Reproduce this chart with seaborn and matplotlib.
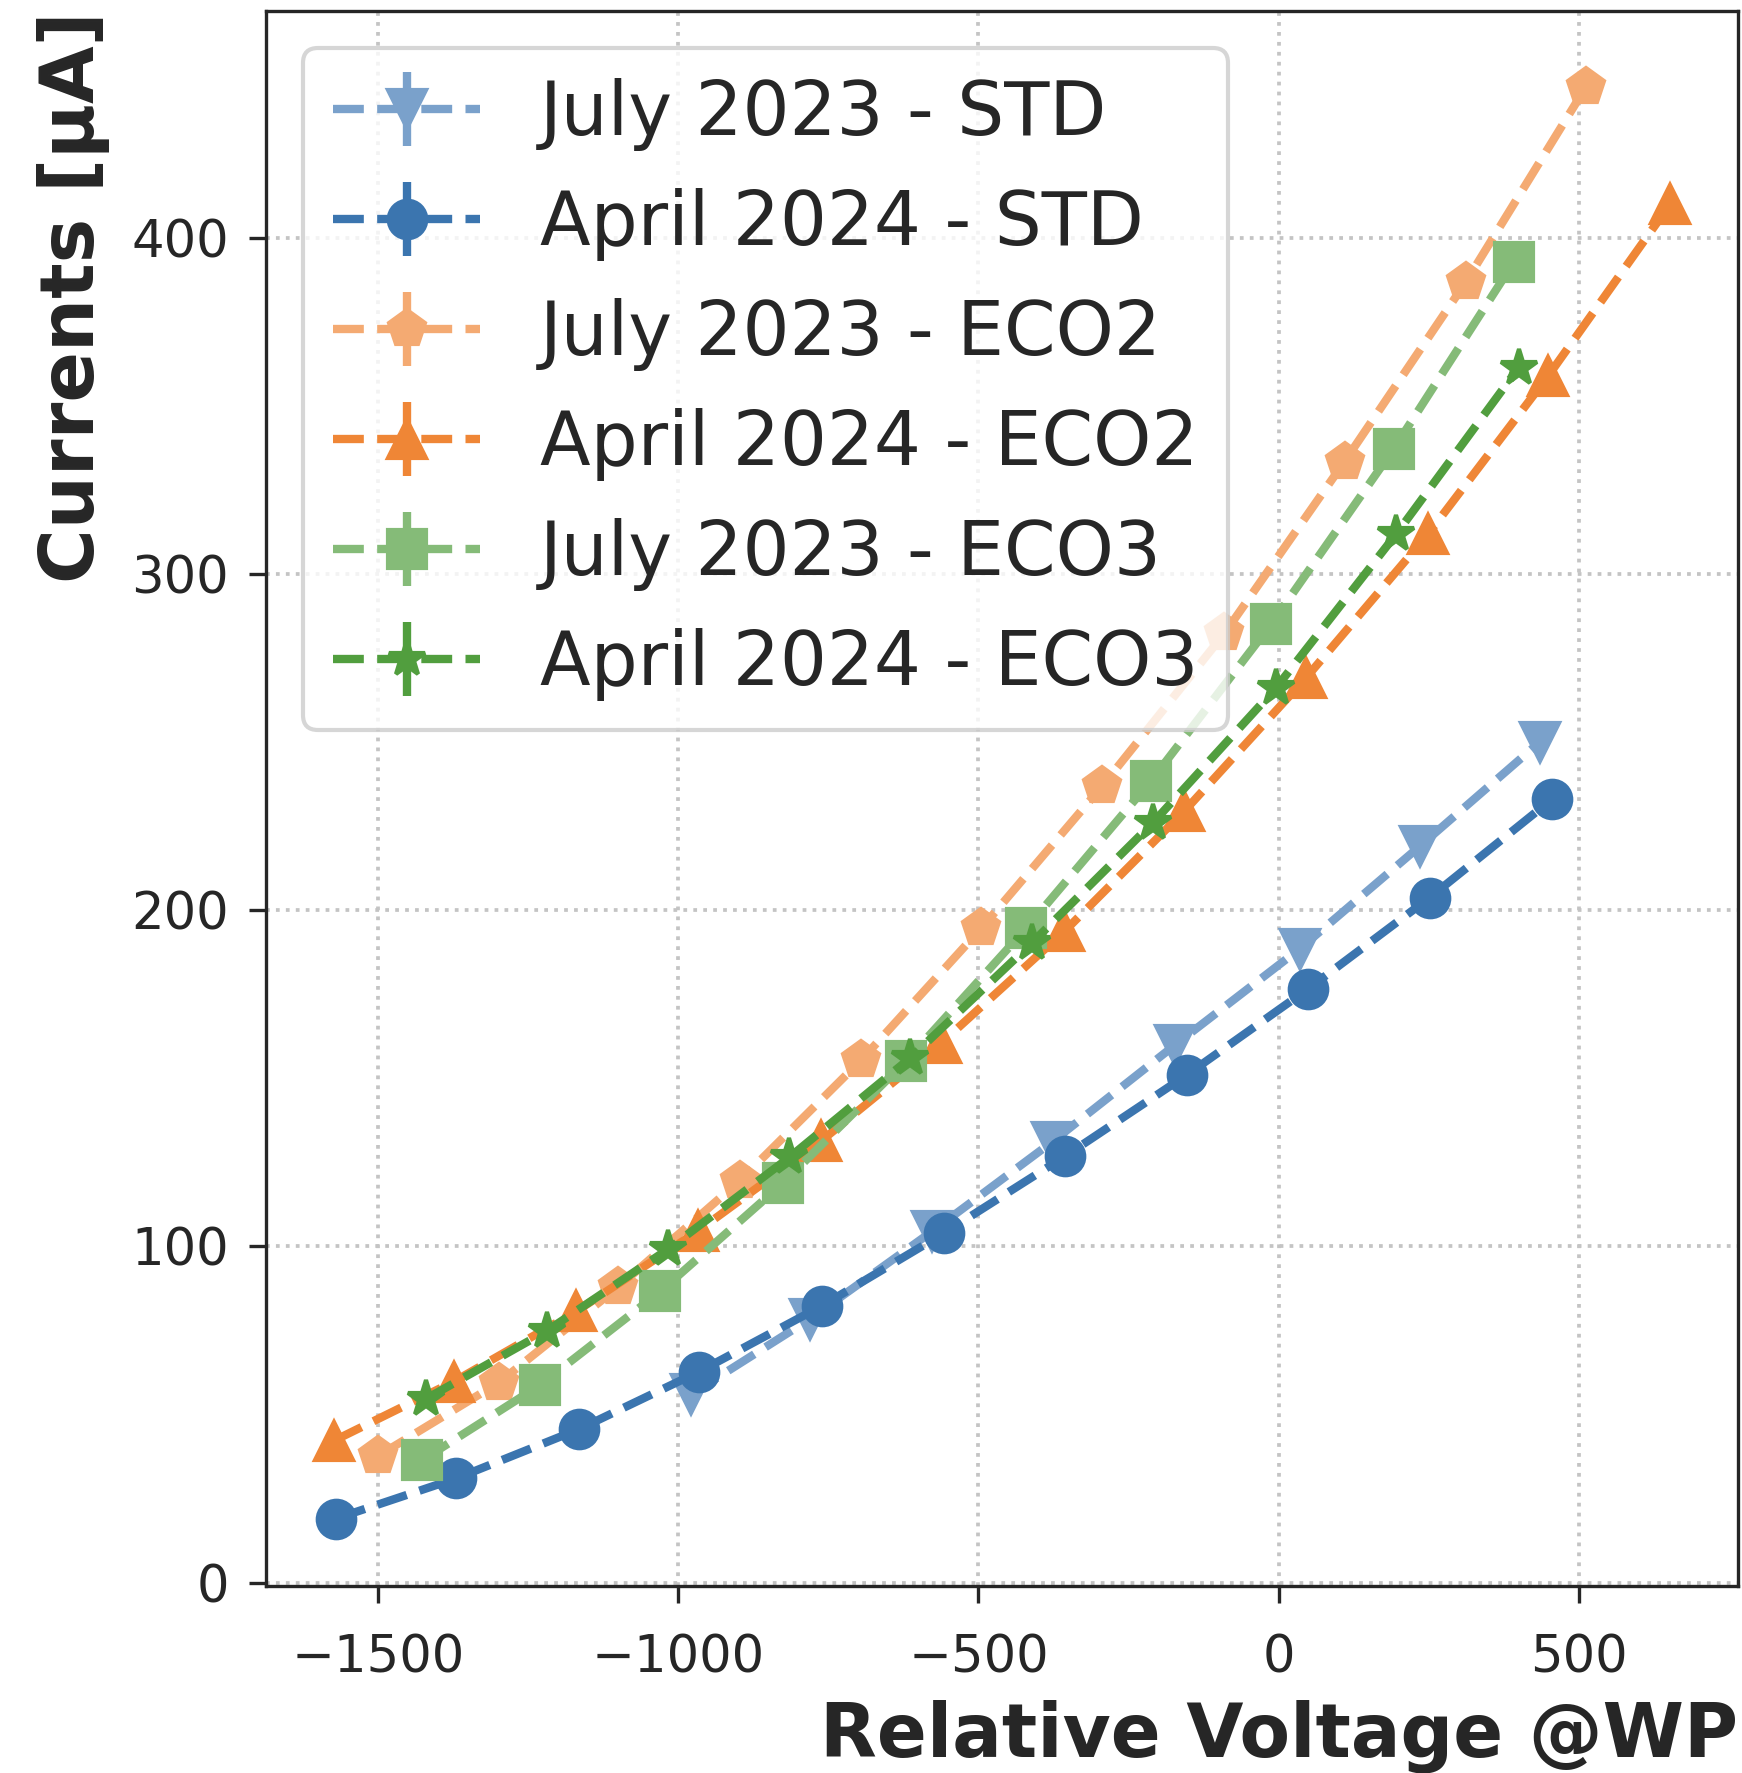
import numpy as np
import matplotlib
matplotlib.use("Agg")
import matplotlib.pyplot as plt
import seaborn as sns

# ---- data ----
x_jul23_std = [-979, -780, -577, -378, -172, 35, 235, 435]
y_jul23_std = [56.0, 78.5, 104.5, 131.0, 160.0, 188.5, 219.0, 250.0]
e_jul23_std = [0.5, 0.5, 0.5, 0.5, 0.5, 0.5, 0.5, 0.5]

x_apr24_std = [-1571, -1370, -1166, -966, -760, -557, -356, -153, 49, 252, 456]
y_apr24_std = [19.0, 31.0, 45.6, 62.7, 82.4, 104.0, 126.8, 151.0, 176.6, 203.8, 233.1]
e_apr24_std = [0.5, 0.5, 0.5, 0.5, 0.5, 0.5, 0.5, 0.5, 0.5, 0.5, 0.5]

x_jul23_eco2 = [-1500, -1299, -1101, -898, -695, -495, -294, -90, 110, 312, 512]
y_jul23_eco2 = [37.7, 59.5, 87.8, 119.5, 155.5, 194.7, 236.9, 282.4, 333.5, 386.9, 444.9]
e_jul23_eco2 = [0.5, 0.5, 0.5, 0.5, 0.5, 0.5, 0.5, 0.5, 0.5, 0.5, 0.5]

x_apr24_eco2 = [-1574, -1374, -1170, -968, -762, -562, -357, -157, 45, 249, 449, 653]
y_apr24_eco2 = [42.2, 59.8, 80.7, 104.5, 131.4, 160.5, 193.7, 229.5, 269.0, 311.9, 358.9, 410.2]
e_apr24_eco2 = [0.5, 0.5, 0.5, 0.5, 0.5, 0.5, 0.5, 0.5, 0.5, 0.5, 0.5, 0.5]

x_jul23_eco3 = [-1427, -1230, -1030, -826, -621, -420, -212, -12, 192, 392]
y_jul23_eco3 = [36.4, 58.8, 86.6, 118.8, 155.1, 194.7, 238.6, 285.2, 337.3, 392.8]
e_jul23_eco3 = [0.5, 0.5, 0.5, 0.5, 0.5, 0.5, 0.5, 0.5, 0.5, 0.5]

x_apr24_eco3 = [-1421, -1219, -1017, -815, -614, -411, -209, -5, 196, 400]
y_apr24_eco3 = [54.6, 74.9, 99.2, 126.5, 156.0, 190.3, 226.1, 266.0, 311.9, 361.4]
e_apr24_eco3 = [0.5, 0.5, 0.5, 0.5, 0.5, 0.5, 0.5, 0.5, 0.5, 0.5]

labels = ["July 2023 - STD", "April 2024 - STD", "July 2023 - ECO2",
          "April 2024 - ECO2", "July 2023 - ECO3", "April 2024 - ECO3"]
colors = ["#7aa1cb", "#3b75af", "#f4aa72", "#ef8636", "#85bb78", "#519e3e"]
markers = ["v", "o", "p", "^", "s", "*"]

x_ticks = [-1500, -1000, -500, 0, 500]
y_ticks = [0, 100, 200, 300, 400]

series = [
    (x_jul23_std, y_jul23_std, e_jul23_std),
    (x_apr24_std, y_apr24_std, e_apr24_std),
    (x_jul23_eco2, y_jul23_eco2, e_jul23_eco2),
    (x_apr24_eco2, y_apr24_eco2, e_apr24_eco2),
    (x_jul23_eco3, y_jul23_eco3, e_jul23_eco3),
    (x_apr24_eco3, y_apr24_eco3, e_apr24_eco3),
]

# ---- style ----
sns.set_theme(style="ticks")
plt.rcParams['font.family'] = ['DejaVu Sans']
plt.rcParams['axes.edgecolor'] = '.15'
plt.rcParams['axes.linewidth'] = 0.8

W, H, DPI = 1742, 1773, 300
fig = plt.figure(figsize=(W / DPI, H / DPI), dpi=DPI)
ax = fig.add_axes([0.1527, 0.1055, 0.8448, 0.8882])

for (xs, ys, es), lab, col, mk in zip(series, labels, colors, markers):
    ax.errorbar(xs, ys, yerr=es, fmt='--', marker=mk, color=col, ecolor=col,
                lw=2, elinewidth=2, ms=9, label=lab)

ax.set_xlim(-1687, 765)
ax.set_ylim(-1, 467.5)

ax.grid(True, linestyle=':', color='#c4c4c4', linewidth=0.9)
ax.set_axisbelow(True)

ax.tick_params(axis='both', which='major', direction='out', length=4, width=0.8,
               labelsize=12.3, colors='.15')
ax.tick_params(axis='x', pad=7.3)
ax.tick_params(axis='y', pad=4.9)
ax.set_xticks(x_ticks)
ax.set_yticks(y_ticks)

ax.set_xlabel("Relative Voltage @WP", fontsize=17.7, fontweight='bold', loc='right',
              color='.15')
ax.set_ylabel("Currents [μA]", fontsize=17.9, fontweight='bold', loc='top',
              color='.15', labelpad=5)

for sp in ax.spines.values():
    sp.set_visible(True)
    sp.set_linewidth(0.8)
    sp.set_color('.15')

leg = ax.legend(loc='upper left', fontsize=17.75, frameon=True, fancybox=True,
                framealpha=0.8, edgecolor='0.8')

fig.savefig("out.png", dpi=DPI)
